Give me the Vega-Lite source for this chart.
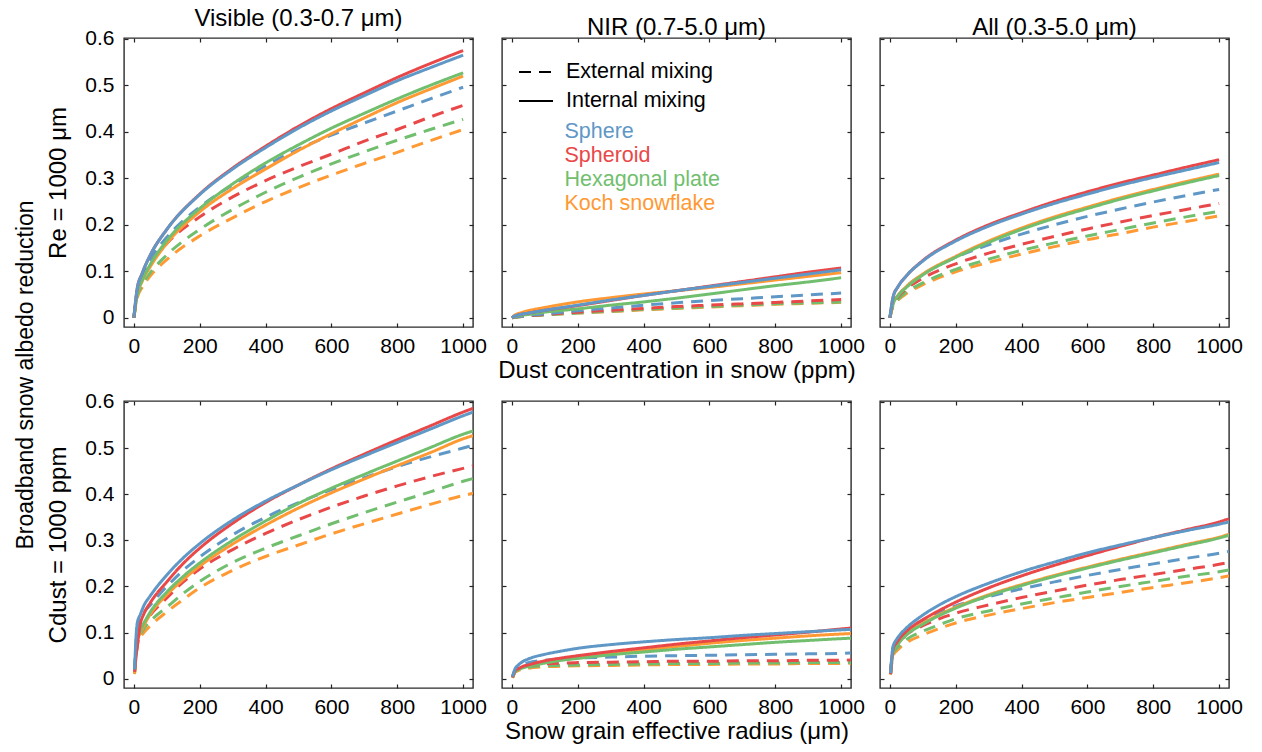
{
  "$schema": "https://vega.github.io/schema/vega-lite/v6.json",
  "background": "white",
  "padding": {"left": 15, "top": 6, "right": 10, "bottom": 6},
  "config": {
    "font": "Liberation Sans",
    "view": {"stroke": "#2b2b2b", "strokeWidth": 1.4},
    "axis": {"domain": false, "grid": false, "tickSize": -4, "tickWidth": 1.2, "tickColor": "#222", "labelFontSize": 21, "labelColor": "#000", "labelPadding": 12, "labelFlush": false, "labelOverlap": false, "titleFontSize": 24, "titleFontWeight": "normal", "titleColor": "#000"},
    "axisY": {"labelPadding": 14},
    "title": {"fontSize": 24, "fontWeight": "normal", "color": "#000", "offset": -3},
    "legend": {"padding": 0, "title": null}
  },
  "title": {"text": "Broadband snow albedo reduction", "orient": "left", "anchor": "middle", "fontSize": 23, "fontWeight": "normal", "offset": 8},
  "datasets": {
    "curves": [
      {"p":"A","s":"Koch snowflake","m":"External mixing","x":[0,10,25,50,100,200,300,400,500,600,700,800,900,1000],"y":[0,0.042,0.065,0.09,0.125,0.176,0.215,0.25,0.28,0.307,0.332,0.356,0.381,0.405]},
      {"p":"A","s":"Hexagonal plate","m":"External mixing","x":[0,10,25,50,100,200,300,400,500,600,700,800,900,1000],"y":[0,0.045,0.07,0.097,0.135,0.19,0.233,0.27,0.302,0.331,0.357,0.382,0.405,0.427]},
      {"p":"A","s":"Spheroid","m":"External mixing","x":[0,10,25,50,100,200,300,400,500,600,700,800,900,1000],"y":[0,0.055,0.085,0.118,0.16,0.217,0.26,0.295,0.325,0.352,0.38,0.405,0.432,0.457]},
      {"p":"A","s":"Sphere","m":"External mixing","x":[0,10,25,50,100,200,300,400,500,600,700,800,900,1000],"y":[0,0.057,0.09,0.126,0.173,0.238,0.286,0.327,0.363,0.393,0.419,0.445,0.471,0.496]},
      {"p":"A","s":"Koch snowflake","m":"Internal mixing","x":[0,10,25,50,100,200,300,400,500,600,700,800,900,1000],"y":[0,0.048,0.078,0.11,0.16,0.228,0.278,0.32,0.36,0.396,0.43,0.463,0.492,0.52]},
      {"p":"A","s":"Hexagonal plate","m":"Internal mixing","x":[0,10,25,50,100,200,300,400,500,600,700,800,900,1000],"y":[0,0.05,0.08,0.115,0.166,0.235,0.288,0.333,0.372,0.408,0.44,0.471,0.5,0.527]},
      {"p":"A","s":"Spheroid","m":"Internal mixing","x":[0,10,25,50,100,200,300,400,500,600,700,800,900,1000],"y":[0,0.062,0.095,0.135,0.19,0.266,0.322,0.369,0.412,0.45,0.484,0.517,0.547,0.575]},
      {"p":"A","s":"Sphere","m":"Internal mixing","x":[0,10,25,50,100,200,300,400,500,600,700,800,900,1000],"y":[0,0.062,0.095,0.135,0.19,0.265,0.32,0.366,0.408,0.445,0.478,0.51,0.538,0.565]},

      {"p":"B","s":"Koch snowflake","m":"External mixing","x":[0,10,25,50,100,200,300,400,500,600,700,800,900,1000],"y":[0,0.001,0.002,0.004,0.006,0.01,0.013,0.017,0.02,0.023,0.026,0.029,0.031,0.033]},
      {"p":"B","s":"Hexagonal plate","m":"External mixing","x":[0,10,25,50,100,200,300,400,500,600,700,800,900,1000],"y":[0,0.001,0.002,0.004,0.006,0.01,0.014,0.018,0.021,0.024,0.027,0.03,0.032,0.034]},
      {"p":"B","s":"Spheroid","m":"External mixing","x":[0,10,25,50,100,200,300,400,500,600,700,800,900,1000],"y":[0,0.002,0.003,0.004,0.007,0.012,0.016,0.02,0.024,0.027,0.03,0.033,0.036,0.039]},
      {"p":"B","s":"Sphere","m":"External mixing","x":[0,10,25,50,100,200,300,400,500,600,700,800,900,1000],"y":[0,0.002,0.003,0.005,0.008,0.015,0.021,0.027,0.032,0.037,0.041,0.045,0.049,0.053]},
      {"p":"B","s":"Koch snowflake","m":"Internal mixing","x":[0,10,25,50,100,200,300,400,500,600,700,800,900,1000],"y":[0,0.006,0.01,0.015,0.022,0.034,0.043,0.051,0.058,0.065,0.073,0.081,0.089,0.097]},
      {"p":"B","s":"Hexagonal plate","m":"Internal mixing","x":[0,10,25,50,100,200,300,400,500,600,700,800,900,1000],"y":[0,0.003,0.005,0.007,0.012,0.019,0.027,0.034,0.042,0.051,0.06,0.069,0.077,0.086]},
      {"p":"B","s":"Spheroid","m":"Internal mixing","x":[0,10,25,50,100,200,300,400,500,600,700,800,900,1000],"y":[0,0.004,0.007,0.01,0.016,0.026,0.037,0.048,0.058,0.068,0.078,0.088,0.098,0.107]},
      {"p":"B","s":"Sphere","m":"Internal mixing","x":[0,10,25,50,100,200,300,400,500,600,700,800,900,1000],"y":[0,0.004,0.007,0.01,0.016,0.027,0.038,0.048,0.058,0.067,0.076,0.085,0.094,0.103]},

      {"p":"C","s":"Koch snowflake","m":"External mixing","x":[0,10,25,50,100,200,300,400,500,600,700,800,900,1000],"y":[0,0.026,0.038,0.052,0.071,0.099,0.119,0.137,0.153,0.168,0.181,0.195,0.207,0.219]},
      {"p":"C","s":"Hexagonal plate","m":"External mixing","x":[0,10,25,50,100,200,300,400,500,600,700,800,900,1000],"y":[0,0.027,0.04,0.055,0.075,0.104,0.126,0.145,0.161,0.176,0.19,0.204,0.217,0.229]},
      {"p":"C","s":"Spheroid","m":"External mixing","x":[0,10,25,50,100,200,300,400,500,600,700,800,900,1000],"y":[0,0.03,0.045,0.062,0.085,0.116,0.139,0.158,0.175,0.191,0.206,0.22,0.233,0.246]},
      {"p":"C","s":"Sphere","m":"External mixing","x":[0,10,25,50,100,200,300,400,500,600,700,800,900,1000],"y":[0,0.031,0.048,0.067,0.093,0.13,0.157,0.18,0.2,0.218,0.234,0.249,0.263,0.276]},
      {"p":"C","s":"Koch snowflake","m":"Internal mixing","x":[0,10,25,50,100,200,300,400,500,600,700,800,900,1000],"y":[0,0.031,0.048,0.067,0.094,0.132,0.165,0.193,0.217,0.238,0.258,0.276,0.293,0.309]},
      {"p":"C","s":"Hexagonal plate","m":"Internal mixing","x":[0,10,25,50,100,200,300,400,500,600,700,800,900,1000],"y":[0,0.03,0.047,0.065,0.092,0.13,0.162,0.19,0.214,0.235,0.255,0.273,0.29,0.306]},
      {"p":"C","s":"Spheroid","m":"Internal mixing","x":[0,10,25,50,100,200,300,400,500,600,700,800,900,1000],"y":[0,0.045,0.067,0.09,0.123,0.167,0.2,0.226,0.25,0.271,0.29,0.307,0.324,0.34]},
      {"p":"C","s":"Sphere","m":"Internal mixing","x":[0,10,25,50,100,200,300,400,500,600,700,800,900,1000],"y":[0,0.045,0.067,0.09,0.122,0.165,0.197,0.223,0.246,0.266,0.285,0.302,0.318,0.334]},

      {"p":"D","s":"Koch snowflake","m":"External mixing","x":[2,10,20,30,50,100,150,200,300,400,500,600,700,800,900,1000,1030],"y":[0.01,0.07,0.09,0.1,0.115,0.145,0.172,0.197,0.235,0.265,0.29,0.314,0.336,0.357,0.378,0.397,0.402]},
      {"p":"D","s":"Hexagonal plate","m":"External mixing","x":[2,10,20,30,50,100,150,200,300,400,500,600,700,800,900,1000,1030],"y":[0.012,0.075,0.095,0.108,0.125,0.155,0.185,0.211,0.252,0.283,0.31,0.336,0.36,0.383,0.405,0.428,0.434]},
      {"p":"D","s":"Spheroid","m":"External mixing","x":[2,10,20,30,50,100,150,200,300,400,500,600,700,800,900,1000,1030],"y":[0.015,0.07,0.1,0.118,0.138,0.175,0.21,0.238,0.28,0.315,0.345,0.372,0.396,0.418,0.438,0.456,0.461]},
      {"p":"D","s":"Sphere","m":"External mixing","x":[2,10,20,30,50,100,150,200,300,400,500,600,700,800,900,1000,1030],"y":[0.018,0.11,0.13,0.143,0.16,0.2,0.235,0.264,0.312,0.35,0.382,0.41,0.436,0.46,0.481,0.5,0.506]},
      {"p":"D","s":"Koch snowflake","m":"Internal mixing","x":[2,10,20,30,50,100,150,200,300,400,500,600,700,800,900,1000,1030],"y":[0.012,0.08,0.1,0.115,0.14,0.182,0.215,0.244,0.292,0.333,0.37,0.403,0.433,0.462,0.49,0.52,0.527]},
      {"p":"D","s":"Hexagonal plate","m":"Internal mixing","x":[2,10,20,30,50,100,150,200,300,400,500,600,700,800,900,1000,1030],"y":[0.015,0.085,0.105,0.12,0.145,0.188,0.222,0.251,0.3,0.342,0.38,0.413,0.443,0.472,0.501,0.53,0.537]},
      {"p":"D","s":"Spheroid","m":"Internal mixing","x":[2,10,20,30,50,100,150,200,300,400,500,600,700,800,900,1000,1030],"y":[0.015,0.07,0.12,0.14,0.165,0.21,0.25,0.283,0.337,0.382,0.42,0.455,0.487,0.518,0.548,0.578,0.586]},
      {"p":"D","s":"Sphere","m":"Internal mixing","x":[2,10,20,30,50,100,150,200,300,400,500,600,700,800,900,1000,1030],"y":[0.02,0.12,0.14,0.158,0.18,0.225,0.262,0.293,0.344,0.385,0.42,0.453,0.483,0.512,0.541,0.57,0.578]},

      {"p":"E","s":"Koch snowflake","m":"External mixing","x":[2,10,20,30,50,100,150,200,300,400,500,600,700,800,900,1000,1030],"y":[0.002,0.014,0.018,0.02,0.023,0.026,0.027,0.028,0.029,0.03,0.031,0.031,0.032,0.032,0.033,0.033,0.034]},
      {"p":"E","s":"Hexagonal plate","m":"External mixing","x":[2,10,20,30,50,100,150,200,300,400,500,600,700,800,900,1000,1030],"y":[0.003,0.015,0.02,0.022,0.025,0.028,0.029,0.03,0.031,0.032,0.033,0.033,0.034,0.034,0.035,0.035,0.035]},
      {"p":"E","s":"Spheroid","m":"External mixing","x":[2,10,20,30,50,100,150,200,300,400,500,600,700,800,900,1000,1030],"y":[0.003,0.017,0.022,0.025,0.028,0.032,0.034,0.035,0.036,0.037,0.038,0.038,0.039,0.039,0.04,0.04,0.041]},
      {"p":"E","s":"Sphere","m":"External mixing","x":[2,10,20,30,50,100,150,200,300,400,500,600,700,800,900,1000,1030],"y":[0.004,0.02,0.026,0.03,0.035,0.04,0.043,0.045,0.047,0.049,0.05,0.051,0.052,0.053,0.054,0.055,0.056]},
      {"p":"E","s":"Koch snowflake","m":"Internal mixing","x":[2,10,20,30,50,100,150,200,300,400,500,600,700,800,900,1000,1030],"y":[0.003,0.016,0.02,0.024,0.028,0.036,0.042,0.047,0.056,0.063,0.07,0.077,0.083,0.088,0.093,0.097,0.098]},
      {"p":"E","s":"Hexagonal plate","m":"Internal mixing","x":[2,10,20,30,50,100,150,200,300,400,500,600,700,800,900,1000,1030],"y":[0.003,0.016,0.02,0.023,0.027,0.034,0.04,0.044,0.052,0.058,0.064,0.069,0.074,0.079,0.083,0.087,0.088]},
      {"p":"E","s":"Spheroid","m":"Internal mixing","x":[2,10,20,30,50,100,150,200,300,400,500,600,700,800,900,1000,1030],"y":[0.003,0.018,0.022,0.026,0.03,0.039,0.045,0.05,0.059,0.067,0.075,0.082,0.089,0.095,0.101,0.108,0.11]},
      {"p":"E","s":"Sphere","m":"Internal mixing","x":[2,10,20,30,50,100,150,200,300,400,500,600,700,800,900,1000,1030],"y":[0.005,0.022,0.03,0.036,0.043,0.053,0.06,0.066,0.074,0.08,0.085,0.089,0.094,0.098,0.102,0.106,0.107]},

      {"p":"F","s":"Koch snowflake","m":"External mixing","x":[2,10,20,30,50,100,150,200,300,400,500,600,700,800,900,1000,1030],"y":[0.009,0.05,0.06,0.067,0.078,0.095,0.109,0.121,0.138,0.152,0.165,0.176,0.187,0.198,0.208,0.219,0.223]},
      {"p":"F","s":"Hexagonal plate","m":"External mixing","x":[2,10,20,30,50,100,150,200,300,400,500,600,700,800,900,1000,1030],"y":[0.01,0.055,0.065,0.072,0.085,0.103,0.117,0.13,0.147,0.162,0.175,0.188,0.2,0.211,0.222,0.232,0.236]},
      {"p":"F","s":"Spheroid","m":"External mixing","x":[2,10,20,30,50,100,150,200,300,400,500,600,700,800,900,1000,1030],"y":[0.01,0.06,0.07,0.08,0.095,0.115,0.13,0.142,0.16,0.176,0.19,0.203,0.215,0.226,0.237,0.248,0.252]},
      {"p":"F","s":"Sphere","m":"External mixing","x":[2,10,20,30,50,100,150,200,300,400,500,600,700,800,900,1000,1030],"y":[0.012,0.07,0.08,0.09,0.105,0.127,0.144,0.158,0.178,0.195,0.21,0.224,0.237,0.249,0.261,0.272,0.276]},
      {"p":"F","s":"Koch snowflake","m":"Internal mixing","x":[2,10,20,30,50,100,150,200,300,400,500,600,700,800,900,1000,1030],"y":[0.01,0.06,0.071,0.081,0.097,0.12,0.139,0.155,0.182,0.204,0.224,0.242,0.259,0.275,0.291,0.307,0.313]},
      {"p":"F","s":"Hexagonal plate","m":"Internal mixing","x":[2,10,20,30,50,100,150,200,300,400,500,600,700,800,900,1000,1030],"y":[0.01,0.06,0.07,0.08,0.095,0.118,0.137,0.153,0.18,0.202,0.222,0.24,0.257,0.273,0.289,0.305,0.311]},
      {"p":"F","s":"Spheroid","m":"Internal mixing","x":[2,10,20,30,50,100,150,200,300,400,500,600,700,800,900,1000,1030],"y":[0.01,0.065,0.078,0.088,0.103,0.128,0.148,0.166,0.197,0.223,0.246,0.267,0.287,0.306,0.323,0.34,0.347]},
      {"p":"F","s":"Sphere","m":"Internal mixing","x":[2,10,20,30,50,100,150,200,300,400,500,600,700,800,900,1000,1030],"y":[0.012,0.07,0.085,0.095,0.11,0.138,0.16,0.178,0.207,0.232,0.253,0.273,0.29,0.306,0.321,0.335,0.34]}
    ]
  },
  "columns": 3,
  "spacing": {"row": 74, "column": 29},
  "bounds": "flush",
  "concat": [
    {
      "width": 349, "height": 289,
      "title": "Visible (0.3-0.7 μm)",
      "data": {"name": "curves"},
      "transform": [{"filter": {"field": "p", "equal": "A"}}, {"flatten": ["x", "y"]}],
      "resolve": {"axis": {"x": "independent", "y": "independent"}},
      "layer": [
        {"mark": {"type": "line", "strokeWidth": 3, "interpolate": "monotone", "clip": true},
         "encoding": {
           "x": {"field": "x", "type": "quantitative", "scale": {"domain": [-30, 1030], "nice": false, "zero": false}, "axis": {"orient": "bottom", "values": [0,200,400,600,800,1000], "format": "d", "title": null}},
           "y": {"field": "y", "type": "quantitative", "scale": {"domain": [-0.02, 0.602], "nice": false, "zero": false}, "axis": {"orient": "left", "values": [0,0.1,0.2,0.3,0.4,0.5,0.6], "format": "~g", "title": "Re = 1000 μm", "titlePadding": 14}},
           "color": {"field": "s", "type": "nominal", "scale": {"domain": ["Sphere","Spheroid","Hexagonal plate","Koch snowflake"], "range": ["#5f98c6","#e94849","#71bf6e","#ff9933"]}, "legend": {"orient": "none", "legendX": 394, "legendY": 83, "symbolType": "circle", "symbolSize": 100, "symbolOpacity": 0, "labelFontSize": 21.5, "rowPadding": 1, "labelOffset": 25, "encode": {"labels": {"update": {"fill": {"signal": "datum.value === 'Sphere' ? '#5f98c6' : datum.value === 'Spheroid' ? '#e94849' : datum.value === 'Hexagonal plate' ? '#71bf6e' : '#ff9933'"}}}}}},
           "strokeDash": {"field": "m", "type": "nominal", "scale": {"domain": ["External mixing","Internal mixing"], "range": [[12,8],[1,0]]}, "legend": {"orient": "none", "legendX": 394, "legendY": 16, "symbolType": "stroke", "symbolSize": 1156, "symbolStrokeColor": "#000", "symbolStrokeWidth": 2, "labelFontSize": 21.5, "rowPadding": 0, "labelOffset": 12, "encode": {"symbols": {"update": {"strokeDash": {"signal": "datum.value === 'External mixing' ? [8,4] : [1,0]"}}}}}}
         }},
        {"mark": {"type": "point", "opacity": 0},
         "encoding": {
           "x": {"field": "x", "type": "quantitative", "axis": {"orient": "top", "labels": false, "title": null, "values": [0,200,400,600,800,1000]}},
           "y": {"field": "y", "type": "quantitative", "axis": {"orient": "right", "labels": false, "title": null, "values": [0,0.1,0.2,0.3,0.4,0.5,0.6]}}
         }}
      ]
    },
    {
      "width": 349, "height": 289,
      "title": "NIR (0.7-5.0 μm)",
      "data": {"name": "curves"},
      "transform": [{"filter": {"field": "p", "equal": "B"}}, {"flatten": ["x", "y"]}],
      "resolve": {"axis": {"x": "independent", "y": "independent"}},
      "layer": [
        {"mark": {"type": "line", "strokeWidth": 3, "interpolate": "monotone", "clip": true},
         "encoding": {
           "x": {"field": "x", "type": "quantitative", "scale": {"domain": [-30, 1030], "nice": false, "zero": false}, "axis": {"orient": "bottom", "values": [0,200,400,600,800,1000], "format": "d", "title": "Dust concentration in snow (ppm)", "titlePadding": 2}},
           "y": {"field": "y", "type": "quantitative", "scale": {"domain": [-0.02, 0.602], "nice": false, "zero": false}, "axis": {"orient": "left", "values": [0,0.1,0.2,0.3,0.4,0.5,0.6], "labels": false, "title": null}},
           "color": {"field": "s", "type": "nominal", "scale": {"domain": ["Sphere","Spheroid","Hexagonal plate","Koch snowflake"], "range": ["#5f98c6","#e94849","#71bf6e","#ff9933"]}, "legend": {"orient": "none", "legendX": 394, "legendY": 83, "symbolType": "circle", "symbolSize": 100, "symbolOpacity": 0, "labelFontSize": 21.5, "rowPadding": 1, "labelOffset": 25, "encode": {"labels": {"update": {"fill": {"signal": "datum.value === 'Sphere' ? '#5f98c6' : datum.value === 'Spheroid' ? '#e94849' : datum.value === 'Hexagonal plate' ? '#71bf6e' : '#ff9933'"}}}}}},
           "strokeDash": {"field": "m", "type": "nominal", "scale": {"domain": ["External mixing","Internal mixing"], "range": [[12,8],[1,0]]}, "legend": {"orient": "none", "legendX": 394, "legendY": 16, "symbolType": "stroke", "symbolSize": 1156, "symbolStrokeColor": "#000", "symbolStrokeWidth": 2, "labelFontSize": 21.5, "rowPadding": 0, "labelOffset": 12, "encode": {"symbols": {"update": {"strokeDash": {"signal": "datum.value === 'External mixing' ? [8,4] : [1,0]"}}}}}}
         }},
        {"mark": {"type": "point", "opacity": 0},
         "encoding": {
           "x": {"field": "x", "type": "quantitative", "axis": {"orient": "top", "labels": false, "title": null, "values": [0,200,400,600,800,1000]}},
           "y": {"field": "y", "type": "quantitative", "axis": {"orient": "right", "labels": false, "title": null, "values": [0,0.1,0.2,0.3,0.4,0.5,0.6]}}
         }}
      ]
    },
    {
      "width": 349, "height": 289,
      "title": "All (0.3-5.0 μm)",
      "data": {"name": "curves"},
      "transform": [{"filter": {"field": "p", "equal": "C"}}, {"flatten": ["x", "y"]}],
      "resolve": {"axis": {"x": "independent", "y": "independent"}},
      "layer": [
        {"mark": {"type": "line", "strokeWidth": 3, "interpolate": "monotone", "clip": true},
         "encoding": {
           "x": {"field": "x", "type": "quantitative", "scale": {"domain": [-30, 1030], "nice": false, "zero": false}, "axis": {"orient": "bottom", "values": [0,200,400,600,800,1000], "format": "d", "title": null}},
           "y": {"field": "y", "type": "quantitative", "scale": {"domain": [-0.02, 0.602], "nice": false, "zero": false}, "axis": {"orient": "left", "values": [0,0.1,0.2,0.3,0.4,0.5,0.6], "labels": false, "title": null}},
           "color": {"field": "s", "type": "nominal", "scale": {"domain": ["Sphere","Spheroid","Hexagonal plate","Koch snowflake"], "range": ["#5f98c6","#e94849","#71bf6e","#ff9933"]}, "legend": {"orient": "none", "legendX": 394, "legendY": 83, "symbolType": "circle", "symbolSize": 100, "symbolOpacity": 0, "labelFontSize": 21.5, "rowPadding": 1, "labelOffset": 25, "encode": {"labels": {"update": {"fill": {"signal": "datum.value === 'Sphere' ? '#5f98c6' : datum.value === 'Spheroid' ? '#e94849' : datum.value === 'Hexagonal plate' ? '#71bf6e' : '#ff9933'"}}}}}},
           "strokeDash": {"field": "m", "type": "nominal", "scale": {"domain": ["External mixing","Internal mixing"], "range": [[12,8],[1,0]]}, "legend": {"orient": "none", "legendX": 394, "legendY": 16, "symbolType": "stroke", "symbolSize": 1156, "symbolStrokeColor": "#000", "symbolStrokeWidth": 2, "labelFontSize": 21.5, "rowPadding": 0, "labelOffset": 12, "encode": {"symbols": {"update": {"strokeDash": {"signal": "datum.value === 'External mixing' ? [8,4] : [1,0]"}}}}}}
         }},
        {"mark": {"type": "point", "opacity": 0},
         "encoding": {
           "x": {"field": "x", "type": "quantitative", "axis": {"orient": "top", "labels": false, "title": null, "values": [0,200,400,600,800,1000]}},
           "y": {"field": "y", "type": "quantitative", "axis": {"orient": "right", "labels": false, "title": null, "values": [0,0.1,0.2,0.3,0.4,0.5,0.6]}}
         }}
      ]
    },
    {
      "width": 349, "height": 287,
      "data": {"name": "curves"},
      "transform": [{"filter": {"field": "p", "equal": "D"}}, {"flatten": ["x", "y"]}],
      "resolve": {"axis": {"x": "independent", "y": "independent"}},
      "layer": [
        {"mark": {"type": "line", "strokeWidth": 3, "interpolate": "monotone", "clip": true},
         "encoding": {
           "x": {"field": "x", "type": "quantitative", "scale": {"domain": [-30, 1030], "nice": false, "zero": false}, "axis": {"orient": "bottom", "values": [0,200,400,600,800,1000], "format": "d", "title": null}},
           "y": {"field": "y", "type": "quantitative", "scale": {"domain": [-0.02, 0.602], "nice": false, "zero": false}, "axis": {"orient": "left", "values": [0,0.1,0.2,0.3,0.4,0.5,0.6], "format": "~g", "title": "Cdust = 1000 ppm", "titlePadding": 14}},
           "color": {"field": "s", "type": "nominal", "scale": {"domain": ["Sphere","Spheroid","Hexagonal plate","Koch snowflake"], "range": ["#5f98c6","#e94849","#71bf6e","#ff9933"]}, "legend": {"orient": "none", "legendX": 394, "legendY": 83, "symbolType": "circle", "symbolSize": 100, "symbolOpacity": 0, "labelFontSize": 21.5, "rowPadding": 1, "labelOffset": 25, "encode": {"labels": {"update": {"fill": {"signal": "datum.value === 'Sphere' ? '#5f98c6' : datum.value === 'Spheroid' ? '#e94849' : datum.value === 'Hexagonal plate' ? '#71bf6e' : '#ff9933'"}}}}}},
           "strokeDash": {"field": "m", "type": "nominal", "scale": {"domain": ["External mixing","Internal mixing"], "range": [[12,8],[1,0]]}, "legend": {"orient": "none", "legendX": 394, "legendY": 16, "symbolType": "stroke", "symbolSize": 1156, "symbolStrokeColor": "#000", "symbolStrokeWidth": 2, "labelFontSize": 21.5, "rowPadding": 0, "labelOffset": 12, "encode": {"symbols": {"update": {"strokeDash": {"signal": "datum.value === 'External mixing' ? [8,4] : [1,0]"}}}}}}
         }},
        {"mark": {"type": "point", "opacity": 0},
         "encoding": {
           "x": {"field": "x", "type": "quantitative", "axis": {"orient": "top", "labels": false, "title": null, "values": [0,200,400,600,800,1000]}},
           "y": {"field": "y", "type": "quantitative", "axis": {"orient": "right", "labels": false, "title": null, "values": [0,0.1,0.2,0.3,0.4,0.5,0.6]}}
         }}
      ]
    },
    {
      "width": 349, "height": 287,
      "data": {"name": "curves"},
      "transform": [{"filter": {"field": "p", "equal": "E"}}, {"flatten": ["x", "y"]}],
      "resolve": {"axis": {"x": "independent", "y": "independent"}},
      "layer": [
        {"mark": {"type": "line", "strokeWidth": 3, "interpolate": "monotone", "clip": true},
         "encoding": {
           "x": {"field": "x", "type": "quantitative", "scale": {"domain": [-30, 1030], "nice": false, "zero": false}, "axis": {"orient": "bottom", "values": [0,200,400,600,800,1000], "format": "d", "title": "Snow grain effective radius (μm)", "titlePadding": 2}},
           "y": {"field": "y", "type": "quantitative", "scale": {"domain": [-0.02, 0.602], "nice": false, "zero": false}, "axis": {"orient": "left", "values": [0,0.1,0.2,0.3,0.4,0.5,0.6], "labels": false, "title": null}},
           "color": {"field": "s", "type": "nominal", "scale": {"domain": ["Sphere","Spheroid","Hexagonal plate","Koch snowflake"], "range": ["#5f98c6","#e94849","#71bf6e","#ff9933"]}, "legend": {"orient": "none", "legendX": 394, "legendY": 83, "symbolType": "circle", "symbolSize": 100, "symbolOpacity": 0, "labelFontSize": 21.5, "rowPadding": 1, "labelOffset": 25, "encode": {"labels": {"update": {"fill": {"signal": "datum.value === 'Sphere' ? '#5f98c6' : datum.value === 'Spheroid' ? '#e94849' : datum.value === 'Hexagonal plate' ? '#71bf6e' : '#ff9933'"}}}}}},
           "strokeDash": {"field": "m", "type": "nominal", "scale": {"domain": ["External mixing","Internal mixing"], "range": [[12,8],[1,0]]}, "legend": {"orient": "none", "legendX": 394, "legendY": 16, "symbolType": "stroke", "symbolSize": 1156, "symbolStrokeColor": "#000", "symbolStrokeWidth": 2, "labelFontSize": 21.5, "rowPadding": 0, "labelOffset": 12, "encode": {"symbols": {"update": {"strokeDash": {"signal": "datum.value === 'External mixing' ? [8,4] : [1,0]"}}}}}}
         }},
        {"mark": {"type": "point", "opacity": 0},
         "encoding": {
           "x": {"field": "x", "type": "quantitative", "axis": {"orient": "top", "labels": false, "title": null, "values": [0,200,400,600,800,1000]}},
           "y": {"field": "y", "type": "quantitative", "axis": {"orient": "right", "labels": false, "title": null, "values": [0,0.1,0.2,0.3,0.4,0.5,0.6]}}
         }}
      ]
    },
    {
      "width": 349, "height": 287,
      "data": {"name": "curves"},
      "transform": [{"filter": {"field": "p", "equal": "F"}}, {"flatten": ["x", "y"]}],
      "resolve": {"axis": {"x": "independent", "y": "independent"}},
      "layer": [
        {"mark": {"type": "line", "strokeWidth": 3, "interpolate": "monotone", "clip": true},
         "encoding": {
           "x": {"field": "x", "type": "quantitative", "scale": {"domain": [-30, 1030], "nice": false, "zero": false}, "axis": {"orient": "bottom", "values": [0,200,400,600,800,1000], "format": "d", "title": null}},
           "y": {"field": "y", "type": "quantitative", "scale": {"domain": [-0.02, 0.602], "nice": false, "zero": false}, "axis": {"orient": "left", "values": [0,0.1,0.2,0.3,0.4,0.5,0.6], "labels": false, "title": null}},
           "color": {"field": "s", "type": "nominal", "scale": {"domain": ["Sphere","Spheroid","Hexagonal plate","Koch snowflake"], "range": ["#5f98c6","#e94849","#71bf6e","#ff9933"]}, "legend": {"orient": "none", "legendX": 394, "legendY": 83, "symbolType": "circle", "symbolSize": 100, "symbolOpacity": 0, "labelFontSize": 21.5, "rowPadding": 1, "labelOffset": 25, "encode": {"labels": {"update": {"fill": {"signal": "datum.value === 'Sphere' ? '#5f98c6' : datum.value === 'Spheroid' ? '#e94849' : datum.value === 'Hexagonal plate' ? '#71bf6e' : '#ff9933'"}}}}}},
           "strokeDash": {"field": "m", "type": "nominal", "scale": {"domain": ["External mixing","Internal mixing"], "range": [[12,8],[1,0]]}, "legend": {"orient": "none", "legendX": 394, "legendY": 16, "symbolType": "stroke", "symbolSize": 1156, "symbolStrokeColor": "#000", "symbolStrokeWidth": 2, "labelFontSize": 21.5, "rowPadding": 0, "labelOffset": 12, "encode": {"symbols": {"update": {"strokeDash": {"signal": "datum.value === 'External mixing' ? [8,4] : [1,0]"}}}}}}
         }},
        {"mark": {"type": "point", "opacity": 0},
         "encoding": {
           "x": {"field": "x", "type": "quantitative", "axis": {"orient": "top", "labels": false, "title": null, "values": [0,200,400,600,800,1000]}},
           "y": {"field": "y", "type": "quantitative", "axis": {"orient": "right", "labels": false, "title": null, "values": [0,0.1,0.2,0.3,0.4,0.5,0.6]}}
         }}
      ]
    }
  ]
}
